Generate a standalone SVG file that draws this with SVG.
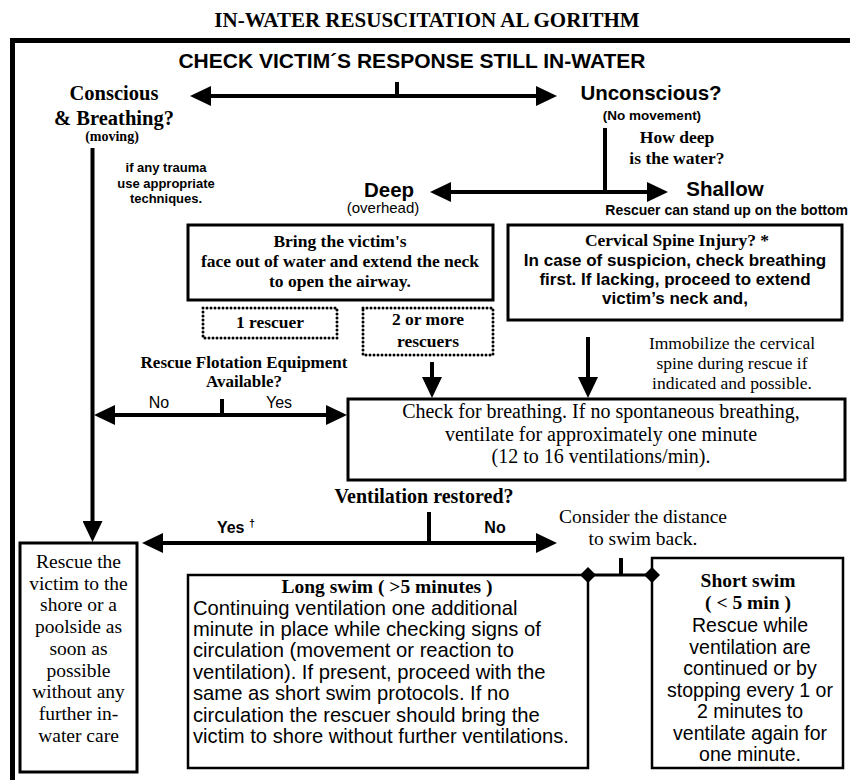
<svg xmlns="http://www.w3.org/2000/svg" width="850" height="780" viewBox="0 0 850 780">
<defs>
<style>
.sb{font-family:"Liberation Serif","Times New Roman",serif;font-weight:bold}
.s{font-family:"Liberation Serif","Times New Roman",serif}
.ab{font-family:"Liberation Sans",Arial,sans-serif;font-weight:bold}
.a{font-family:"Liberation Sans",Arial,sans-serif}
.c{text-anchor:middle}
.e{text-anchor:end}
.ln{stroke:#000;stroke-width:4;fill:none}
.box{fill:#fff;stroke:#000;stroke-width:3}
.dot{fill:none;stroke:#000;stroke-width:3;stroke-dasharray:0 4;stroke-linecap:round}
text{fill:#000}
</style>
<marker id="ah" markerUnits="userSpaceOnUse" markerWidth="21" markerHeight="20" viewBox="0 0 21 20" refX="1" refY="10" orient="auto-start-reverse">
<path d="M0,0 L21,10 L0,20 z" fill="#000"/>
</marker>
</defs>
<rect width="850" height="780" fill="#fff"/>
<text class="sb c" x="427" y="27" font-size="21">IN-WATER RESUSCITATION AL GORITHM</text>
<path d="M12.5,780 V40.5 H850" fill="none" stroke="#000" stroke-width="5"/>

<g id="check">
<text class="ab c" x="412" y="68" font-size="21">CHECK VICTIM´S RESPONSE STILL IN-WATER</text>
</g>

<g id="conscious">
<text class="sb c" x="114" y="100" font-size="20.5">Conscious</text>
<text class="sb c" x="114" y="125" font-size="20.5">&amp; Breathing?</text>
<text class="sb c" x="112" y="141" font-size="14">(moving)</text>
</g>

<g id="trauma">
<text class="ab c" x="166" y="172" font-size="13">if any trauma</text>
<text class="ab c" x="166" y="188" font-size="13">use appropriate</text>
<text class="ab c" x="166" y="203" font-size="13">techniques.</text>
</g>

<g id="unconscious">
<text class="ab c" x="651" y="100" font-size="20.5">Unconscious?</text>
<text class="ab c" x="652" y="120" font-size="13.5">(No movement)</text>
</g>

<g id="howdeep">
<text class="sb c" x="677" y="143" font-size="17.5">How deep</text>
<text class="sb c" x="677" y="164" font-size="17.5">is the water?</text>
</g>

<g id="deep">
<text class="ab c" x="389" y="197" font-size="20.5">Deep</text>
<text class="a c" x="383" y="213" font-size="15">(overhead)</text>
</g>

<g id="shallow">
<text class="ab c" x="725" y="196" font-size="20.5">Shallow</text>
<text class="ab e" x="848" y="215" font-size="14">Rescuer can stand up on the bottom</text>
</g>

<g id="bring">
<rect class="box" x="188" y="225" width="305" height="75"/>
<text class="sb c" x="340" y="247" font-size="17.5">Bring the victim's</text>
<text class="sb c" x="340" y="267" font-size="17.5">face out of water and extend the neck</text>
<text class="sb c" x="340" y="287" font-size="17.5">to open the airway.</text>
</g>

<g id="one-rescuer">
<rect class="dot" x="203" y="308" width="134" height="30"/>
<text class="sb c" x="270" y="328" font-size="17.5">1 rescuer</text>
</g>

<g id="two-rescuers">
<rect class="dot" x="363" y="308" width="130" height="47"/>
<text class="sb c" x="428" y="325" font-size="17.5">2 or more</text>
<text class="sb c" x="428" y="347" font-size="17.5">rescuers</text>
</g>

<g id="flotation">
<text class="sb c" x="244" y="368" font-size="17">Rescue Flotation Equipment</text>
<text class="sb c" x="244" y="387" font-size="17">Available?</text>
<text class="a c" x="159" y="408" font-size="16">No</text>
<text class="a c" x="279" y="408" font-size="16">Yes</text>
</g>

<g id="cervical">
<rect class="box" x="508" y="225" width="334" height="95"/>
<text class="sb c" x="677" y="246" font-size="17.5">Cervical Spine Injury? *</text>
<text class="ab c" x="675" y="266" font-size="17">In case of suspicion, check breathing</text>
<text class="ab c" x="675" y="285" font-size="17">first. If lacking, proceed to extend</text>
<text class="ab c" x="675" y="304" font-size="17">victim’s neck and,</text>
</g>

<g id="immobilize">
<text class="s c" x="732" y="349" font-size="17.5">Immobilize the cervical</text>
<text class="s c" x="732" y="369" font-size="17.5">spine during rescue if</text>
<text class="s c" x="732" y="389" font-size="17.5">indicated and possible.</text>
</g>

<g id="check-breathing">
<rect class="box" x="348" y="399" width="497" height="81" stroke-width="2.5"/>
<text class="s c" x="601" y="418" font-size="20">Check for breathing. If no spontaneous breathing,</text>
<text class="s c" x="601" y="441" font-size="20">ventilate for approximately one minute</text>
<text class="s c" x="601" y="463" font-size="20">(12 to 16 ventilations/min).</text>
</g>

<g id="restored">
<text class="sb c" x="424" y="503" font-size="20">Ventilation restored?</text>
<text class="ab c" x="236" y="533" font-size="16">Yes <tspan font-size="11" dy="-6">†</tspan></text>
<text class="ab c" x="495" y="533" font-size="16">No</text>
</g>

<g id="distance">
<text class="s c" x="643" y="523" font-size="19.5">Consider the distance</text>
<text class="s c" x="643" y="545" font-size="19.5">to swim back.</text>
</g>

<g id="rescue-shore">
<rect class="box" x="20" y="543" width="117" height="229" stroke-width="2.5"/>
<text class="s c" x="78.5" y="568" font-size="19.5">Rescue the</text>
<text class="s c" x="78.5" y="590" font-size="19.5">victim to the</text>
<text class="s c" x="78.5" y="611" font-size="19.5">shore or a</text>
<text class="s c" x="78.5" y="633" font-size="19.5">poolside as</text>
<text class="s c" x="78.5" y="655" font-size="19.5">soon as</text>
<text class="s c" x="78.5" y="677" font-size="19.5">possible</text>
<text class="s c" x="78.5" y="698" font-size="19.5">without any</text>
<text class="s c" x="78.5" y="720" font-size="19.5">further in-</text>
<text class="s c" x="78.5" y="742" font-size="19.5">water care</text>
</g>

<g id="long-swim">
<path d="M588,575 H188 V768 H588 Z" fill="#fff" stroke="#000" stroke-width="2.5"/>
<text class="sb c" x="387" y="593" font-size="19.5">Long swim ( &gt;5 minutes )</text>
<text class="a" x="193" y="615" font-size="20.2">Continuing ventilation one additional</text>
<text class="a" x="193" y="636" font-size="20.2">minute in place while checking signs of</text>
<text class="a" x="193" y="657" font-size="20.2">circulation (movement or reaction to</text>
<text class="a" x="193" y="679" font-size="20.2">ventilation). If present, proceed with the</text>
<text class="a" x="193" y="700" font-size="20.2">same as short swim protocols. If no</text>
<text class="a" x="193" y="722" font-size="20.2">circulation the rescuer should bring the</text>
<text class="a" x="193" y="743" font-size="20.2">victim to shore without further ventilations.</text>
</g>

<g id="short-swim">
<path d="M652,575 V558 H843 V768 H652 Z" fill="#fff" stroke="#000" stroke-width="2.5"/>
<text class="sb c" x="748" y="587" font-size="19.5">Short swim</text>
<text class="sb c" x="748" y="609" font-size="19.5">( &lt; 5 min )</text>
<text class="a c" x="750" y="632" font-size="19.5">Rescue while</text>
<text class="a c" x="750" y="654" font-size="19.5">ventilation are</text>
<text class="a c" x="750" y="675" font-size="19.5">continued or by</text>
<text class="a c" x="750" y="697" font-size="19.5">stopping every 1 or</text>
<text class="a c" x="750" y="718" font-size="19.5">2 minutes to</text>
<text class="a c" x="750" y="740" font-size="19.5">ventilate again for</text>
<text class="a c" x="750" y="761" font-size="19.5">one minute.</text>
</g>

<g id="connectors">
<path class="ln" d="M397,82 V96"/>
<path class="ln" d="M210,96 H537" marker-start="url(#ah)" marker-end="url(#ah)"/>
<path class="ln" d="M605,128 V192"/>
<path class="ln" d="M450,192 H648" marker-start="url(#ah)" marker-end="url(#ah)"/>
<path class="ln" d="M92.5,148 V522" marker-end="url(#ah)"/>
<path class="ln" d="M222,399 V415"/>
<path class="ln" d="M114,415 H327" marker-start="url(#ah)" marker-end="url(#ah)"/>
<path class="ln" d="M432,362 V378" marker-end="url(#ah)"/>
<path class="ln" d="M588,337 V378" marker-end="url(#ah)"/>
<path class="ln" d="M429,512 V543"/>
<path class="ln" d="M162,543 H537" marker-start="url(#ah)" marker-end="url(#ah)"/>
<path class="ln" d="M621,558 V575"/>
<path d="M588,575 H652" stroke="#000" stroke-width="3"/>
<polygon points="588,567 596,575 588,583 580,575" fill="#000"/>
<polygon points="652,567 660,575 652,583 644,575" fill="#000"/>
</g>
</svg>
